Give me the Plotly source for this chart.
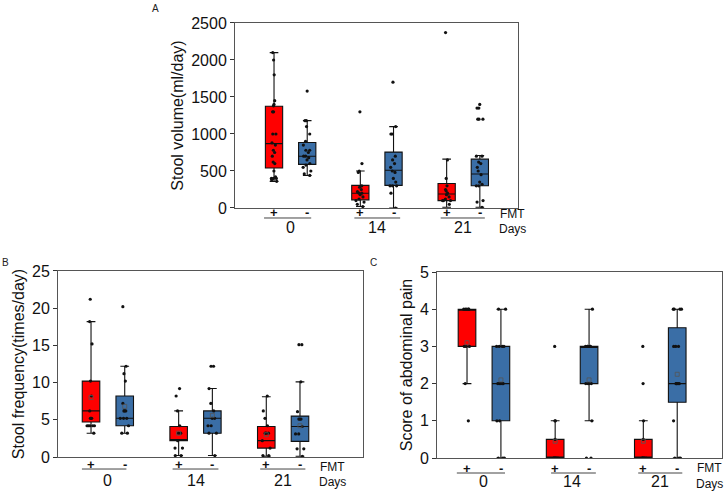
import plotly.graph_objects as go

# ---------------- data ----------------
days = ["0", "14", "21"]
fmt_signs = ["+", "-"]

# Panel A: stool volume (ml/day), order: D0+, D0-, D14+, D14-, D21+, D21-
A_q1 = [540, 590, 110, 305, 100, 300]
A_med = [870, 700, 200, 510, 190, 460]
A_q3 = [1375, 885, 305, 755, 330, 660]
A_lo = [360, 440, 20, 0, 10, 10]
A_hi = [2100, 1180, 500, 1100, 660, 710]
A_pts = [
    [2100, 2000, 1800, 1450, 1400, 1380, 1300, 1300, 1000, 1000, 880, 850, 780, 750, 700, 620, 600, 500, 420, 400, 400, 400, 380, 360],
    [1580, 1180, 1180, 1100, 1000, 900, 850, 780, 780, 750, 700, 700, 680, 650, 600, 580, 550, 500, 460, 440],
    [1300, 600, 500, 480, 300, 280, 250, 220, 200, 200, 180, 150, 120, 100, 80, 50, 20],
    [1700, 1100, 1000, 1000, 700, 650, 600, 550, 500, 480, 400, 350, 300, 300, 300, 200, 0],
    [2370, 650, 400, 300, 250, 230, 200, 180, 150, 120, 100, 100, 100, 50],
    [1400, 1350, 1350, 1200, 1200, 1200, 700, 700, 620, 600, 550, 500, 450, 350, 320, 300, 300, 100, 80, 10],
]

# Panel B: stool frequency (times/day)
B_q1 = [4.7, 4.2, 2.2, 3.2, 1.2, 2.1]
B_med = [6.2, 5.2, 2.2, 5.2, 2.2, 4.1]
B_q3 = [10.2, 8.2, 4.1, 6.2, 4.1, 5.5]
B_lo = [3.2, 3.2, 0.2, 0.2, 0.1, 0.1]
B_hi = [18.2, 12.2, 6.2, 9.2, 8.1, 10.1]
B_mean = [8.0, 6.8, 3.2, 5.6, 3.0, 4.2]
B_pts = [
    [21.2, 18.2, 15.2, 10.2, 8.2, 6.2, 5.2, 5.2, 5.2, 4.2, 4.2, 4.2, 4.2, 4.2, 3.2],
    [20.2, 12.2, 11.2, 10.2, 7.2, 6.2, 6.2, 6.2, 5.2, 5.2, 5.2, 4.2, 3.2, 3.2],
    [9.2, 8.2, 6.2, 4.2, 3.2, 3.2, 2.2, 1.2, 1.2, 0.2, 0.2],
    [12.2, 12.2, 9.2, 7.2, 6.2, 5.2, 5.2, 4.2, 4.2, 3.2, 3.2, 0.2],
    [8.2, 6.2, 5.2, 4.2, 3.2, 3.2, 3.2, 2.2, 1.2, 0.2, 0.2],
    [15.1, 15.1, 10.1, 6.1, 5.1, 5.1, 5.1, 4.1, 3.1, 3.1, 1.1, 1.1, 0.1],
]

# Panel C: score of abdominal pain
C_q1 = [3, 1, 0, 2, 0, 1.5]
C_med = [4, 2, 0, 3, 0, 2]
C_q3 = [4, 3, 0.5, 3, 0.5, 3.5]
C_lo = [2, 0, 0, 1, 0, 0]
C_hi = [4, 4, 1, 4, 1, 4]
C_mean = [3.1, 2.1, 0.45, 2.1, 0.45, 2.25]
C_pts = [
    [4, 4, 4, 4, 4, 3, 3, 3, 2, 1],
    [4, 4, 3, 3, 3, 3, 2, 2, 2, 2, 2, 1, 1, 0, 0, 0],
    [3, 1, 1, 0.5, 0, 0, 0, 0, 0, 0],
    [4, 3, 3, 3, 3, 3, 2, 2, 2, 2, 1, 0, 0],
    [3, 2, 1, 0.5, 0, 0, 0, 0, 0, 0],
    [4, 4, 4, 4, 3, 3, 3, 2, 2, 2, 2, 2, 1, 0, 0, 0],
]

# ---------------- layout config ----------------
RED = "#FF0000"
BLUE = "#3A6EA6"
FONT = "Liberation Sans, Arial, sans-serif"
positions = [-0.5, 0.5, 2.1, 3.1, 4.7, 5.7]
colors = [RED, BLUE] * 3
BOXW = 0.52

panels = [
    dict(name="A", xa="x", ya="y", q1=A_q1, med=A_med, q3=A_q3, lo=A_lo, hi=A_hi, pts=A_pts, mean=None,
         xrange=[-1.675, 6.85], xdom=[0.3246, 0.7155], ydom=[0.5764, 0.9532],
         yrange=[0, 2500], dtick=500, title="Stool volume(ml/day)",
         sign_off=-5, line_off=-10, day_off=-20, fmt_off=-6, days_off=-21,
         ul=[(-0.3, 0.12), (-0.18, 0.2), (-0.18, 0.15)],
         label_xy=(155, 8)),
    dict(name="B", xa="x2", ya="y2", q1=B_q1, med=B_med, q3=B_q3, lo=B_lo, hi=B_hi, pts=B_pts, mean=B_mean,
         xrange=[-1.48, 7.57], xdom=[0.0801, 0.5014], ydom=[0.0692, 0.4481],
         yrange=[0, 25], dtick=5, title="Stool frequency(times/day)",
         sign_off=-7, line_off=-12, day_off=-23, fmt_off=-10, days_off=-25,
         ul=[(-0.27, 0.05), (-0.18, 0.18), (-0.18, 0.16)],
         label_xy=(5, 262)),
    dict(name="C", xa="x3", ya="y3", q1=C_q1, med=C_med, q3=C_q3, lo=C_lo, hi=C_hi, pts=C_pts, mean=C_mean,
         xrange=[-1.385, 7.02], xdom=[0.6036, 0.9972], ydom=[0.0672, 0.446],
         yrange=[0, 5], dtick=1, title="Score of abdominal pain",
         sign_off=-10, line_off=-15, day_off=-23, fmt_off=-10, days_off=-26,
         ul=[(-0.3, 0.12), (-0.12, 0.2), (-0.15, 0.15)],
         label_xy=(374, 262)),
]

fig = go.Figure()
annotations = []
shapes = []

for p in panels:
    for i, pos in enumerate(positions):
        # box from summary statistics
        fig.add_trace(go.Box(
            x=[pos], q1=[p["q1"][i]], median=[p["med"][i]], q3=[p["q3"][i]],
            lowerfence=[p["lo"][i]], upperfence=[p["hi"][i]],
            width=BOXW, whiskerwidth=0.5, fillcolor=colors[i],
            line=dict(color="#111111", width=1.1), boxpoints=False,
            xaxis=p["xa"], yaxis=p["ya"], showlegend=False, hoverinfo="skip"))
        # individual observations
        fig.add_trace(go.Box(
            x=[pos] * len(p["pts"][i]), y=p["pts"][i],
            width=BOXW, boxpoints="all", jitter=0.6, pointpos=0,
            fillcolor="rgba(0,0,0,0)", line=dict(color="rgba(0,0,0,0)", width=0),
            marker=dict(color="#111111", size=3.2),
            xaxis=p["xa"], yaxis=p["ya"], showlegend=False, hoverinfo="skip"))
    if p["mean"] is not None:
        fig.add_trace(go.Scatter(
            x=positions, y=p["mean"], mode="markers",
            marker=dict(symbol="square-open", size=4, color="#555555", line=dict(width=0.8)),
            xaxis=p["xa"], yaxis=p["ya"], showlegend=False, hoverinfo="skip"))

    yd = p["ya"] + " domain"
    # + / - labels
    for i, pos in enumerate(positions):
        annotations.append(dict(x=pos, y=0, xref=p["xa"], yref=yd, yshift=p["sign_off"],
                                text="<b>" + fmt_signs[i % 2] + "</b>", showarrow=False,
                                font=dict(family=FONT, size=13, color="#111111"),
                                xanchor="center", yanchor="middle"))
    # day labels + underline
    for g in range(3):
        xl, xr = positions[2 * g], positions[2 * g + 1]
        annotations.append(dict(x=(xl + xr) / 2, y=0, xref=p["xa"], yref=yd, yshift=p["day_off"],
                                text=days[g], showarrow=False,
                                font=dict(family=FONT, size=16, color="#111111"),
                                xanchor="center", yanchor="middle"))
        dl, dr = p["ul"][g]
        shapes.append(dict(type="line", xref=p["xa"], yref=yd, ysizemode="pixel", yanchor=0,
                           x0=xl + dl, x1=xr + dr,
                           y0=p["line_off"], y1=p["line_off"],
                           line=dict(color="#444444", width=1)))
    annotations.append(dict(x=positions[-1], y=0, xref=p["xa"], yref=yd, xshift=18, yshift=p["fmt_off"],
                            text="FMT", showarrow=False, font=dict(family=FONT, size=12, color="#111111"),
                            xanchor="left", yanchor="middle"))
    annotations.append(dict(x=positions[-1], y=0, xref=p["xa"], yref=yd, xshift=17, yshift=p["days_off"],
                            text="Days", showarrow=False, font=dict(family=FONT, size=12, color="#111111"),
                            xanchor="left", yanchor="middle"))
    annotations.append(dict(x=p["label_xy"][0] / 724, y=1 - p["label_xy"][1] / 491, xref="paper", yref="paper",
                            text=p["name"], showarrow=False, font=dict(family=FONT, size=10, color="#222222"),
                            xanchor="center", yanchor="middle"))

axis_common = dict(showgrid=False, zeroline=False, showline=True, mirror=True,
                   linecolor="#555555", linewidth=1, automargin=False)
layout_axes = {}
for p in panels:
    xk = "xaxis" if p["xa"] == "x" else "xaxis" + p["xa"][1:]
    yk = "yaxis" if p["ya"] == "y" else "yaxis" + p["ya"][1:]
    layout_axes[xk] = dict(axis_common, domain=p["xdom"], range=p["xrange"], showticklabels=False,
                           ticks="", anchor=p["ya"])
    layout_axes[yk] = dict(axis_common, domain=p["ydom"], range=p["yrange"], dtick=p["dtick"],
                           tick0=0, ticks="outside", ticklen=4, tickcolor="#333333",
                           tickfont=dict(family=FONT, size=16, color="#111111"),
                           title=dict(text=p["title"], font=dict(family=FONT, size=16, color="#111111"),
                                      standoff=3),
                           anchor=p["xa"])

fig.update_layout(
    width=724, height=491,
    margin=dict(l=0, r=0, t=0, b=0),
    paper_bgcolor="white", plot_bgcolor="white",
    boxmode="overlay",
    annotations=annotations, shapes=shapes,
    font=dict(family=FONT),
    **layout_axes,
)

fig.write_html("out.html", config={"displayModeBar": False},
               post_script="document.body.style.margin='0px';document.body.style.padding='0px';")
